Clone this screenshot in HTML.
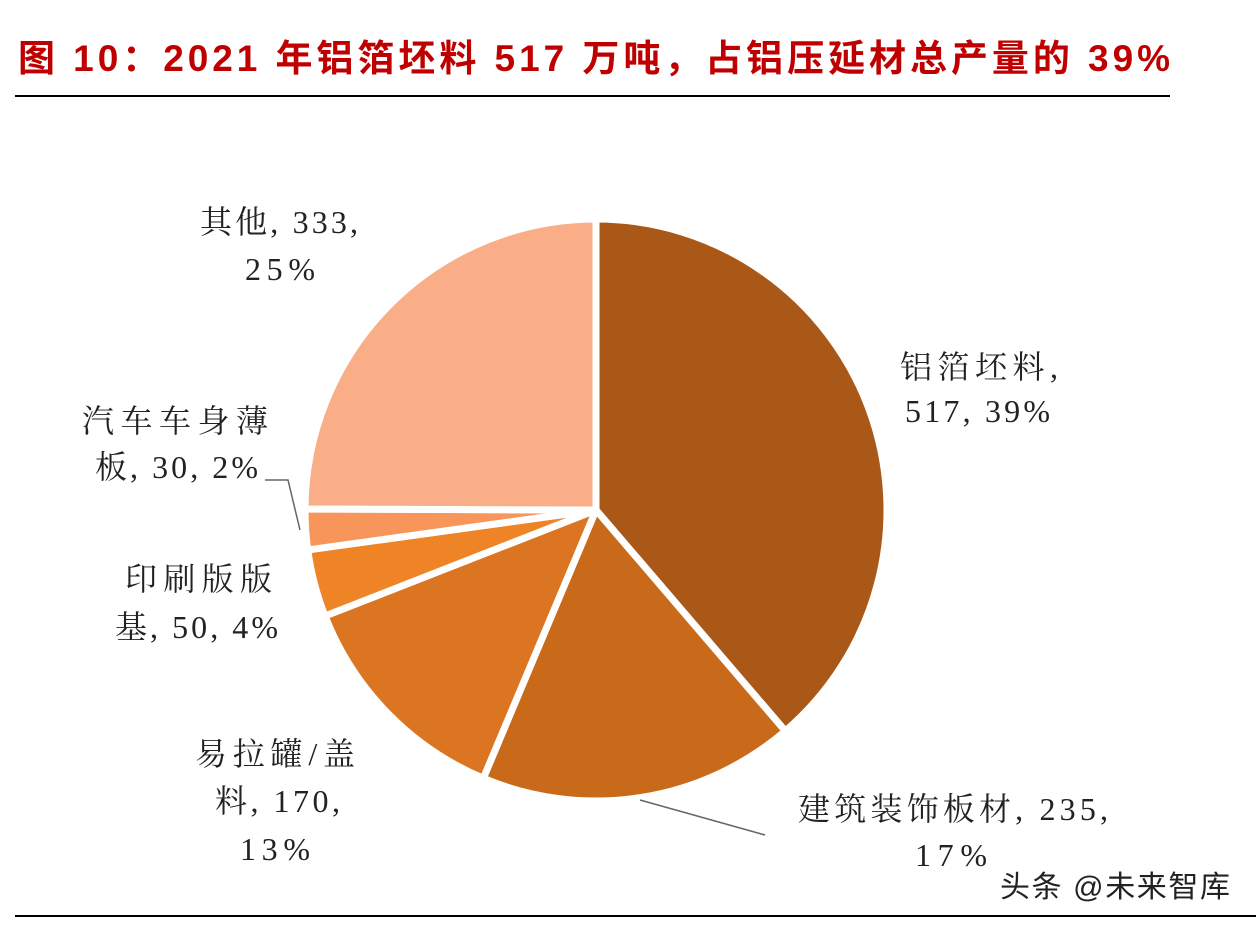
<!DOCTYPE html>
<html><head><meta charset="utf-8"><style>
body{margin:0;background:#fff;width:1256px;height:930px;overflow:hidden}
svg{display:block}
.lbl{font-family:"Liberation Serif","Noto Serif CJK SC",serif;font-size:32px;fill:#222}
</style></head><body>
<svg id="chart" width="1256" height="930">
<text x="18" y="71" textLength="1152" lengthAdjust="spacing" font-family="Liberation Sans,'Noto Sans CJK SC',sans-serif" font-size="37" font-weight="bold" fill="#C00000">图 10：2021 年铝箔坯料 517 万吨，占铝压延材总产量的 39%</text>
<line x1="15" y1="96" x2="1170" y2="96" stroke="#000" stroke-width="2"/>
<line x1="15" y1="916" x2="1256" y2="916" stroke="#000" stroke-width="2"/>
<g id="slices"></g>
<polyline points="265,480 288,480 300,530" fill="none" stroke="#666" stroke-width="1.5"/>
<polyline points="640,800 765,835" fill="none" stroke="#666" stroke-width="1.5"/>
<g class="lbl">
<text x="200" y="233" textLength="158">其他, 333,</text>
<text x="245" y="280" textLength="70">25%</text>
<text x="900" y="378" textLength="158">铝箔坯料,</text>
<text x="905" y="422" textLength="145">517, 39%</text>
<text x="82" y="432" textLength="186">汽车车身薄</text>
<text x="95" y="478" textLength="163">板, 30, 2%</text>
<text x="125" y="590" textLength="147">印刷版版</text>
<text x="115" y="638" textLength="163">基, 50, 4%</text>
<text x="195" y="765" textLength="160">易拉罐/盖</text>
<text x="215" y="812" textLength="125">料, 170,</text>
<text x="240" y="860" textLength="70">13%</text>
<text x="798" y="820" textLength="310">建筑装饰板材, 235,</text>
<text x="915" y="866" textLength="72">17%</text>
</g>
<text x="1000" y="897" textLength="230" font-family="Liberation Sans,'Noto Sans CJK SC',sans-serif" font-size="30" fill="#222">头条 @未来智库</text>
</svg>
<script>
const categories=["铝箔坯料","建筑装饰板材","易拉罐/盖料","印刷版版基","汽车车身薄板","其他"];
const values=[517,235,170,50,30,333];
const colors=["#AA5817","#C96A1B","#DC7521","#EE8425","#F7955A","#F9AE88"];
const cx=596,cy=510,r=291;
const total=values.reduce((a,b)=>a+b,0);
const g=document.getElementById('slices');
let a0=0;
values.forEach((v,i)=>{
  const a1=a0+v/total*2*Math.PI;
  const p=a=>[cx+r*Math.sin(a),cy-r*Math.cos(a)];
  const [x0,y0]=p(a0),[x1,y1]=p(a1);
  const path=document.createElementNS("http://www.w3.org/2000/svg","path");
  path.setAttribute("d",`M${cx},${cy}L${x0},${y0}A${r},${r} 0 ${a1-a0>Math.PI?1:0} 1 ${x1},${y1}Z`);
  path.setAttribute("fill",colors[i]);
  path.setAttribute("stroke","#fff");
  path.setAttribute("stroke-width","7");
  path.setAttribute("stroke-linejoin","round");
  
  
  g.appendChild(path);
  a0=a1;
});
</script>
</body></html>
